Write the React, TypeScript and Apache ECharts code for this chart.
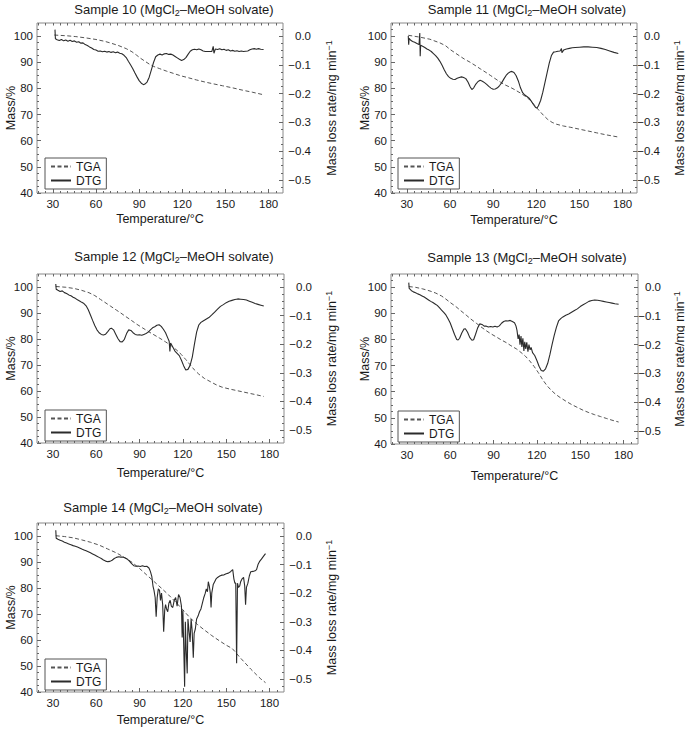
import React, { useEffect, useRef } from 'react';
import * as echarts from 'echarts';

// ---------- tick labels ----------
const X_MAJOR = [30, 60, 90, 120, 150, 180];
const X_MINOR = [20, 25, 30, 35, 40, 45, 50, 55, 60, 65, 70, 75, 80, 85, 90, 95, 100, 105, 110, 115, 120, 125, 130, 135, 140, 145, 150, 155, 160, 165, 170, 175, 180, 185];
const Y_LEFT = [40, 50, 60, 70, 80, 90, 100];
const Y_LEFT_MINOR = [42.5, 45, 47.5, 50, 52.5, 55, 57.5, 60, 62.5, 65, 67.5, 70, 72.5, 75, 77.5, 80, 82.5, 85, 87.5, 90, 92.5, 95, 97.5, 100, 102.5];
const Y_RIGHT = [-0.5, -0.4, -0.3, -0.2, -0.1, 0];
const Y_RIGHT_MINOR = [-0.525, -0.5, -0.475, -0.45, -0.425, -0.4, -0.375, -0.35, -0.325, -0.3, -0.275, -0.25, -0.225, -0.2, -0.175, -0.15, -0.125, -0.1, -0.075, -0.05, -0.025, 0, 0.025];

// ---------- data: [temperature °C, value] ----------
const s10Tga = [[31,100.4],[40,100.1],[46,99.8],[53,99.3],[60,98.7],[66,98.0],[71,97.2],[76,96.3],[81,95.2],[85,94.0],[88,92.8],[91,91.5],[94,90.4],[97,89.3],[100,88.4],[104,87.6],[109,86.6],[114,85.7],[119,84.8],[124,84.1],[130,83.2],[136,82.4],[141,81.8],[148,81.0],[155,80.2],[162,79.3],[169,78.5],[177,77.5]];
const s10Dtg = [[31.5,0.022],[31.8,-0.010],[33,-0.013],[34.5,-0.016],[36,-0.012],[37.5,-0.017],[39,-0.014],[40.5,-0.018],[42,-0.015],[43.5,-0.019],[45,-0.017],[46.5,-0.022],[48,-0.020],[49.5,-0.025],[51,-0.024],[52.5,-0.030],[54,-0.033],[55.5,-0.038],[57,-0.042],[58.5,-0.047],[60,-0.049],[61.5,-0.053],[63,-0.052],[64.5,-0.055],[66,-0.053],[67.5,-0.056],[69,-0.054],[70.5,-0.057],[72,-0.055],[73.5,-0.058],[75,-0.056],[76.5,-0.060],[78,-0.062],[79.5,-0.067],[81,-0.075],[82.5,-0.088],[84,-0.100],[85.5,-0.113],[87,-0.128],[88.5,-0.142],[90,-0.155],[91.5,-0.164],[93,-0.169],[94,-0.167],[95.5,-0.160],[97,-0.143],[98.5,-0.118],[100,-0.092],[101.5,-0.072],[103,-0.066],[104.5,-0.063],[106,-0.066],[107.5,-0.062],[109,-0.061],[110.5,-0.064],[112,-0.063],[113.5,-0.066],[115,-0.071],[116.5,-0.076],[118,-0.081],[119.5,-0.085],[121,-0.082],[122.5,-0.075],[124,-0.064],[125.5,-0.053],[127,-0.048],[128.5,-0.046],[130,-0.048],[131.5,-0.045],[133,-0.048],[134.5,-0.052],[136,-0.054],[137.5,-0.054],[139,-0.054],[140.5,-0.054],[141.5,-0.036],[142,-0.060],[143,-0.045],[144.5,-0.047],[146,-0.044],[147.5,-0.048],[149,-0.046],[150.5,-0.050],[152,-0.048],[153.5,-0.052],[155,-0.050],[156.5,-0.053],[158,-0.051],[159.5,-0.054],[161,-0.052],[162.5,-0.054],[164,-0.053],[165.5,-0.052],[167,-0.048],[168.5,-0.045],[170,-0.044],[171.5,-0.046],[173,-0.044],[174.5,-0.046],[176.5,-0.047]];

const s11Tga = [[31,100.3],[39,99.6],[46,98.8],[53,97.4],[57,96.3],[60,94.9],[64,93.4],[67,92.3],[70,91.2],[74,90.0],[78,88.6],[81,87.5],[85,86.1],[88,85.0],[92,83.5],[95,82.4],[98,81.4],[102,80.4],[105,79.5],[109,78.2],[112,77.1],[116,75.4],[119,73.4],[122,71.5],[125,69.7],[128,68.1],[131,67.0],[134,66.3],[139,65.6],[144,65.1],[150,64.4],[156,63.7],[162,63.0],[168,62.3],[172,61.9],[177,61.4]];
const s11Dtg = [[31,0.0],[31.3,-0.030],[31.6,-0.008],[32.5,-0.014],[34,-0.019],[35.5,-0.022],[37,-0.026],[38.5,-0.030],[39,0.010],[39.3,-0.070],[39.6,-0.032],[41,-0.036],[42.5,-0.040],[44,-0.045],[45.5,-0.049],[47,-0.054],[48.5,-0.061],[50,-0.068],[51.5,-0.077],[53,-0.088],[54.5,-0.102],[56,-0.117],[57.5,-0.131],[59,-0.141],[60.5,-0.147],[62,-0.150],[63.5,-0.151],[65,-0.147],[66.5,-0.144],[68,-0.142],[69.5,-0.144],[71,-0.148],[72.5,-0.160],[74,-0.176],[75.2,-0.186],[76.5,-0.180],[78,-0.167],[79.5,-0.158],[81,-0.154],[82.5,-0.157],[84,-0.162],[85.5,-0.168],[87,-0.175],[88.5,-0.181],[90,-0.185],[91.5,-0.184],[93,-0.180],[94.5,-0.172],[96,-0.162],[97.5,-0.149],[99,-0.137],[100.5,-0.129],[102,-0.124],[103,-0.123],[104.5,-0.127],[106,-0.138],[107.5,-0.156],[109,-0.180],[110.5,-0.197],[112,-0.205],[113.5,-0.210],[115,-0.216],[116.5,-0.226],[118,-0.238],[119.5,-0.248],[120.5,-0.250],[121.5,-0.242],[123,-0.224],[124.5,-0.196],[126,-0.162],[127.5,-0.128],[129,-0.094],[130.5,-0.068],[132,-0.056],[133.5,-0.055],[135,-0.053],[136.5,-0.052],[137.5,-0.044],[137.8,-0.058],[139,-0.049],[141,-0.045],[143,-0.043],[145,-0.041],[147,-0.040],[150,-0.039],[153,-0.038],[156,-0.038],[159,-0.039],[162,-0.040],[165,-0.043],[168,-0.047],[171,-0.052],[174,-0.057],[177,-0.061]];

const s12Tga = [[32,100.2],[39,99.9],[45,99.4],[50,98.7],[55,97.8],[59,96.7],[63,95.2],[66,94.1],[70,92.6],[74,91.1],[77,90.0],[80,88.8],[84,87.3],[88,85.7],[92,84.3],[96,82.9],[100,81.6],[104,80.3],[108,78.9],[112,77.4],[116,75.6],[119,74.0],[122,72.1],[125,70.1],[128,68.1],[131,66.5],[135,64.8],[139,63.6],[143,62.4],[147,61.5],[152,60.8],[157,60.2],[162,59.6],[167,59.0],[172,58.4],[176,57.9]];
const s12Dtg = [[32,0.010],[32.3,-0.008],[33.5,-0.012],[35,-0.016],[36.5,-0.014],[38,-0.020],[39.5,-0.023],[41,-0.028],[42.5,-0.031],[44,-0.036],[45.5,-0.040],[47,-0.045],[48.5,-0.049],[50,-0.054],[51.5,-0.058],[53,-0.066],[54.5,-0.080],[56,-0.098],[57.5,-0.117],[59,-0.135],[60.5,-0.150],[62,-0.160],[63.5,-0.166],[65,-0.168],[66.5,-0.165],[68,-0.156],[69.5,-0.146],[70.5,-0.144],[72,-0.150],[73.5,-0.165],[75,-0.180],[76.5,-0.191],[78,-0.192],[79.5,-0.183],[81,-0.163],[82.5,-0.150],[84,-0.152],[85.5,-0.160],[87,-0.166],[88.5,-0.168],[90,-0.167],[91.5,-0.169],[93,-0.166],[94.5,-0.163],[96,-0.158],[97.5,-0.150],[99,-0.143],[100.5,-0.139],[102,-0.134],[103.5,-0.132],[105,-0.138],[106.5,-0.148],[108,-0.160],[109.5,-0.178],[110.5,-0.190],[111,-0.225],[111.5,-0.196],[113,-0.210],[114.5,-0.224],[116,-0.232],[117.5,-0.240],[119,-0.256],[120.5,-0.275],[122,-0.290],[123.5,-0.288],[125,-0.274],[126.5,-0.245],[128,-0.200],[129.5,-0.158],[131,-0.133],[132.5,-0.124],[134,-0.119],[136,-0.113],[138,-0.107],[140,-0.098],[142,-0.088],[144,-0.078],[146,-0.068],[148,-0.062],[150,-0.055],[152,-0.050],[154,-0.047],[156,-0.044],[158,-0.042],[160,-0.043],[162,-0.044],[164,-0.046],[166,-0.050],[168,-0.054],[170,-0.058],[172,-0.061],[174,-0.064],[176,-0.067]];

const s13Tga = [[31.3,100.2],[36,99.9],[41,99.3],[46,98.5],[50,97.7],[54,96.6],[57,95.4],[60,94.1],[64,92.5],[67,91.1],[71,89.3],[74,87.9],[78,86.2],[81,84.9],[85,83.3],[88,82.2],[92,80.9],[95,79.9],[99,78.7],[102,77.6],[106,76.3],[109,75.0],[112,73.6],[115,71.8],[118,69.7],[121,67.3],[124,64.6],[127,62.3],[130,60.5],[133,59.0],[136,57.8],[140,56.4],[144,55.1],[148,54.0],[152,52.9],[156,52.0],[160,51.2],[164,50.5],[168,49.8],[172,49.1],[176.6,48.4]];
const s13Dtg = [[31.3,0.015],[31.6,-0.005],[33,-0.012],[34.5,-0.017],[36,-0.020],[37.5,-0.024],[39,-0.027],[40.5,-0.031],[42,-0.035],[43.5,-0.040],[45,-0.045],[46.5,-0.050],[48,-0.054],[49.5,-0.059],[51,-0.064],[52.5,-0.072],[54,-0.080],[55.5,-0.088],[57,-0.097],[58.5,-0.110],[60,-0.125],[61.5,-0.145],[63,-0.165],[64.5,-0.182],[65.5,-0.184],[66.5,-0.178],[68,-0.160],[69.5,-0.146],[70.5,-0.145],[72,-0.157],[73.5,-0.175],[75,-0.185],[76.2,-0.183],[77.5,-0.165],[79,-0.142],[80.5,-0.128],[82,-0.130],[83.5,-0.136],[85,-0.136],[86.5,-0.139],[88,-0.137],[89.5,-0.139],[91,-0.136],[92.5,-0.139],[94,-0.135],[95.5,-0.126],[97,-0.120],[98.5,-0.117],[100,-0.118],[101.5,-0.116],[103,-0.120],[104.5,-0.124],[105.5,-0.135],[106.2,-0.150],[107,-0.180],[107.7,-0.165],[108.3,-0.200],[109,-0.170],[109.6,-0.208],[110.3,-0.178],[111,-0.222],[111.6,-0.190],[112.3,-0.215],[113,-0.192],[113.8,-0.225],[114.5,-0.200],[115.3,-0.218],[116,-0.210],[117,-0.228],[118.5,-0.238],[120,-0.255],[121.5,-0.275],[123,-0.290],[124.5,-0.292],[126,-0.284],[127.5,-0.265],[129,-0.235],[130.5,-0.200],[132,-0.168],[133.5,-0.140],[135,-0.118],[136.5,-0.110],[138,-0.104],[140,-0.098],[142,-0.094],[144,-0.088],[146,-0.082],[148,-0.076],[150,-0.068],[152,-0.062],[154,-0.056],[156,-0.050],[158,-0.047],[160,-0.045],[162,-0.046],[164,-0.048],[166,-0.050],[168,-0.052],[170,-0.054],[172,-0.056],[174,-0.058],[176.6,-0.060]];

const s14Tga = [[32,100.1],[38,99.8],[44,99.3],[50,98.5],[56,97.6],[62,96.5],[68,95.0],[74,93.5],[80,91.6],[85,89.8],[90,87.5],[95,85.0],[100,82.5],[105,80.0],[110,77.4],[115,74.6],[120,71.6],[125,68.5],[130,66.0],[135,63.8],[140,61.7],[145,59.8],[150,58.0],[154,56.8],[156,55.6],[159,53.6],[163,51.2],[167,48.8],[171,46.6],[174,45.0],[177.2,43.6]];
const s14Dtg = [[32,0.020],[32.3,-0.008],[33.5,-0.012],[35,-0.015],[36.5,-0.018],[38,-0.022],[39.5,-0.025],[41,-0.028],[42.5,-0.031],[44,-0.034],[45.5,-0.036],[47,-0.039],[48.5,-0.042],[50,-0.046],[51.5,-0.049],[53,-0.052],[54.5,-0.055],[56,-0.059],[57.5,-0.063],[59,-0.067],[60.5,-0.071],[62,-0.075],[63.5,-0.079],[65,-0.084],[66.5,-0.088],[68,-0.090],[69.5,-0.089],[71,-0.085],[72.5,-0.079],[74,-0.075],[75.5,-0.073],[77,-0.074],[78.5,-0.074],[80,-0.077],[81.5,-0.081],[83,-0.088],[84.5,-0.097],[86,-0.104],[87.5,-0.106],[89,-0.105],[90.5,-0.107],[92,-0.104],[93.5,-0.107],[95,-0.106],[96.5,-0.112],[97.5,-0.124],[98.5,-0.142],[99.3,-0.175],[100,-0.190],[100.8,-0.215],[101.5,-0.282],[102.2,-0.215],[103,-0.185],[103.8,-0.190],[104.5,-0.225],[105.2,-0.200],[106,-0.240],[106.7,-0.335],[107.4,-0.260],[108,-0.240],[108.7,-0.255],[109.5,-0.265],[110.3,-0.235],[111.2,-0.225],[112,-0.245],[113,-0.250],[114,-0.225],[115,-0.215],[116,-0.245],[117,-0.205],[118,-0.215],[119,-0.245],[119.5,-0.355],[120,-0.260],[120.6,-0.390],[121.2,-0.527],[121.7,-0.300],[122.3,-0.400],[123,-0.480],[123.5,-0.290],[124.2,-0.330],[125,-0.370],[125.7,-0.290],[126.4,-0.330],[127.2,-0.425],[127.8,-0.340],[128.6,-0.325],[129.5,-0.290],[130.5,-0.280],[131.5,-0.265],[132.5,-0.255],[133.5,-0.235],[134.5,-0.215],[135.5,-0.200],[136.2,-0.185],[137,-0.195],[137.6,-0.160],[138.3,-0.175],[139,-0.200],[139.5,-0.250],[140,-0.200],[141,-0.170],[142,-0.160],[143,-0.150],[144,-0.145],[145.5,-0.140],[147,-0.137],[148.5,-0.136],[150,-0.132],[151.5,-0.130],[153,-0.125],[154.5,-0.118],[155.3,-0.150],[156,-0.165],[156.6,-0.165],[157.2,-0.445],[157.8,-0.165],[158.5,-0.180],[159.3,-0.175],[160,-0.160],[161,-0.150],[162,-0.145],[162.8,-0.175],[163.4,-0.240],[164,-0.180],[165,-0.165],[166,-0.140],[167,-0.125],[168.5,-0.124],[170,-0.122],[171,-0.118],[172,-0.100],[173,-0.090],[174.5,-0.080],[176,-0.070],[177.2,-0.062]];

const sampleNames = ['10', '11', '12', '13', '14'];
const tgaSets = [s10Tga, s11Tga, s12Tga, s13Tga, s14Tga];
const dtgSets = [s10Dtg, s11Dtg, s12Dtg, s13Dtg, s14Dtg];

// ---------- layout ----------
const layout = [
  { left: 37, top: 23, width: 246, height: 170, titleX: 174, titleY: 2, legX: 45, legY: 158, xGap: 19, rMargin: 28, rGap: 41 },
  { left: 391, top: 23, width: 246, height: 170, titleX: 527, titleY: 2, legX: 398, legY: 158, xGap: 20, rMargin: 23, rGap: 35 },
  { left: 37, top: 274, width: 247, height: 169, titleX: 174, titleY: 249, legX: 45, legY: 410, xGap: 23, rMargin: 28, rGap: 40 },
  { left: 391, top: 274, width: 247, height: 170, titleX: 527, titleY: 250, legX: 398, legY: 411, xGap: 25, rMargin: 23, rGap: 34 },
  { left: 37, top: 523, width: 247, height: 169, titleX: 163, titleY: 500, legX: 45, legY: 659, xGap: 21, rMargin: 28, rGap: 40 },
];

const FONT = '"Liberation Sans", Arial, Helvetica, sans-serif';
const TXT = '#1a1a1a';
const TICK = '#666';
const X_MIN = 19, X_MAX = 190;
const L_MIN = 40, L_MAX = 105;
const R_MIN = -0.545, R_MAX = 0.045;

function fmtRight(v: number) {
  if (Math.abs(v) < 1e-6) return '0.0';
  return (v < 0 ? '\u2212' : '') + Math.abs(v).toFixed(1);
}

const NO_LINE = { show: false, onZero: false };

function buildOption() {
  const grid: any[] = [];
  const xAxis: any[] = [];
  const yAxis: any[] = [];
  const series: any[] = [];
  const title: any[] = [];
  const legend: any[] = [];

  layout.forEach((L, p) => {
    grid.push({
      left: L.left, top: L.top, width: L.width, height: L.height,
      show: true, borderColor: '#8a8a8a', borderWidth: 1, backgroundColor: 'transparent',
      containLabel: false, outerBoundsMode: 'none',
    });
    title.push({
      text: 'Sample ' + sampleNames[p] + ' (MgCl{s|2}\u2013MeOH solvate)',
      left: L.titleX, top: L.titleY, textAlign: 'center', padding: 0,
      textStyle: {
        fontSize: 13, fontWeight: 'normal', color: TXT, fontFamily: FONT, lineHeight: 15,
        rich: { s: { fontSize: 9, verticalAlign: 'bottom', lineHeight: 15, fontFamily: FONT, color: TXT } },
      },
    });
    legend.push({
      data: ['TGA', 'DTG'], orient: 'vertical', left: L.legX, top: L.legY,
      itemWidth: 20, itemHeight: 10, itemGap: 1, padding: [2, 5, 2, 5],
      borderColor: '#555', borderWidth: 1, borderRadius: 0, backgroundColor: '#fff',
      selectedMode: false,
      itemStyle: { opacity: 0, color: 'transparent', borderColor: 'transparent', borderWidth: 0 },
      textStyle: { fontSize: 12, color: TXT, fontFamily: FONT, lineHeight: 13 },
    });
    // x axes
    xAxis.push({
      type: 'value', gridIndex: p, min: X_MIN, max: X_MAX, position: 'bottom',
      axisLine: NO_LINE, splitLine: { show: false },
      axisTick: { show: true, inside: true, length: 4, customValues: X_MAJOR, lineStyle: { color: TICK } },
      axisLabel: { show: true, customValues: X_MAJOR, fontSize: 11.5, color: TXT, fontFamily: FONT, margin: 5 },
      name: 'Temperature/\u00b0C', nameLocation: 'middle', nameGap: L.xGap, nameMoveOverlap: false,
      nameTextStyle: { fontSize: 12.5, color: TXT, fontFamily: FONT },
    });
    xAxis.push({
      type: 'value', gridIndex: p, min: X_MIN, max: X_MAX, position: 'bottom',
      axisLine: NO_LINE, splitLine: { show: false }, axisLabel: { show: false },
      axisTick: { show: true, inside: true, length: 2, customValues: X_MINOR, lineStyle: { color: TICK } },
    });
    xAxis.push({
      type: 'value', gridIndex: p, min: X_MIN, max: X_MAX, position: 'top',
      axisLine: NO_LINE, splitLine: { show: false }, axisLabel: { show: false },
      axisTick: { show: true, inside: true, length: 2.5, customValues: X_MINOR, lineStyle: { color: TICK } },
    });
    // y axes
    yAxis.push({
      type: 'value', gridIndex: p, min: L_MIN, max: L_MAX, position: 'left',
      axisLine: NO_LINE, splitLine: { show: false },
      axisTick: { show: true, inside: true, length: 4, customValues: Y_LEFT, lineStyle: { color: TICK } },
      axisLabel: { show: true, customValues: Y_LEFT, fontSize: 11.5, color: TXT, fontFamily: FONT, margin: 4 },
      name: 'Mass/%', nameLocation: 'middle', nameRotate: 90, nameGap: 20, nameMoveOverlap: false,
      nameTextStyle: { fontSize: 12.5, color: TXT, fontFamily: FONT },
    });
    yAxis.push({
      type: 'value', gridIndex: p, min: R_MIN, max: R_MAX, position: 'right',
      axisLine: NO_LINE, splitLine: { show: false },
      axisTick: { show: true, inside: true, length: 4, customValues: Y_RIGHT, lineStyle: { color: TICK } },
      axisLabel: {
        show: true, customValues: Y_RIGHT, fontSize: 11.5, color: TXT, fontFamily: FONT,
        margin: L.rMargin, align: 'right', formatter: (v: number) => fmtRight(v),
      },
      name: 'Mass loss rate/mg min{sup|\u22121}', nameLocation: 'middle', nameRotate: 90, nameGap: L.rGap,
      nameMoveOverlap: false,
      nameTextStyle: {
        fontSize: 12.5, color: TXT, fontFamily: FONT, lineHeight: 15,
        rich: { sup: { fontSize: 9, verticalAlign: 'top', lineHeight: 15, fontFamily: FONT, color: TXT } },
      },
    });
    yAxis.push({
      type: 'value', gridIndex: p, min: L_MIN, max: L_MAX, position: 'left',
      axisLine: NO_LINE, splitLine: { show: false }, axisLabel: { show: false },
      axisTick: { show: true, inside: true, length: 2, customValues: Y_LEFT_MINOR, lineStyle: { color: TICK } },
    });
    yAxis.push({
      type: 'value', gridIndex: p, min: R_MIN, max: R_MAX, position: 'right',
      axisLine: NO_LINE, splitLine: { show: false }, axisLabel: { show: false },
      axisTick: { show: true, inside: true, length: 2, customValues: Y_RIGHT_MINOR, lineStyle: { color: TICK } },
    });

    series.push({
      name: 'TGA', type: 'line', xAxisIndex: 3 * p, yAxisIndex: 4 * p,
      data: tgaSets[p], symbol: 'none', showSymbol: false, smooth: false,
      lineStyle: { color: '#555', width: 1, type: [4, 2.5] }, itemStyle: { color: '#555' },
    });
    series.push({
      name: 'DTG', type: 'line', xAxisIndex: 3 * p, yAxisIndex: 4 * p + 1,
      data: dtgSets[p], symbol: 'none', showSymbol: false, smooth: false,
      lineStyle: { color: '#2b2b2b', width: 1.1, type: 'solid' }, itemStyle: { color: '#2b2b2b' },
    });
  });

  return {
    animation: false,
    backgroundColor: '#fff',
    textStyle: { fontFamily: FONT },
    title, legend, grid, xAxis, yAxis, series,
  };
}

export default function App() {
  const ref = useRef<HTMLDivElement>(null);
  useEffect(() => {
    if (!ref.current) return;
    const chart = echarts.init(ref.current, null, { renderer: 'svg' });
    chart.setOption(buildOption() as any);
    return () => chart.dispose();
  }, []);
  return (
    <div
      ref={ref}
      style={{ position: 'absolute', left: 0, top: 0, width: 685, height: 729, background: '#fff' }}
    />
  );
}
